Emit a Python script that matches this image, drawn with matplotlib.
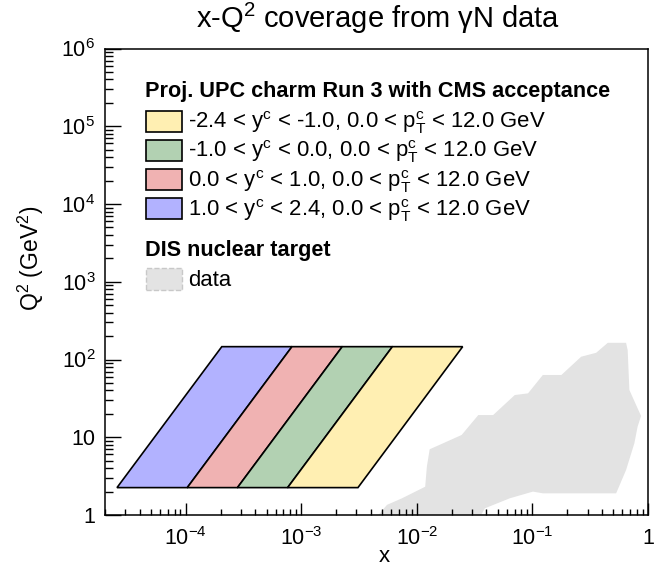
import numpy as np
import matplotlib
matplotlib.use("Agg")
import matplotlib.pyplot as plt
from matplotlib.patches import Rectangle
from matplotlib.ticker import FixedLocator, FuncFormatter, NullFormatter

plt.rcParams['font.family'] = ['Liberation Sans', 'DejaVu Sans']
plt.rcParams['mathtext.fontset'] = 'custom'
plt.rcParams['mathtext.rm'] = 'Liberation Sans'
plt.rcParams['mathtext.it'] = 'Liberation Sans:italic'
plt.rcParams['mathtext.bf'] = 'Liberation Sans:bold'

# charm bands: Q2 from m_c^2 up to m_c^2 + pT_max^2
q2_band = [2.25, 146.25]
# x at the low-Q2 and high-Q2 edges, going from y = 2.4 down to y = -2.4
x_edges_low = [2.54e-5, 1.03e-4, 2.80e-4, 7.61e-4, 3.09e-3]
x_edges_high = [2.05e-4, 8.30e-4, 2.26e-3, 6.14e-3, 2.49e-2]
band_labels = [
    r"1.0 < y$^{\mathregular{c}}$ < 2.4, 0.0 < $\mathregular{p_{T}^{c}}$ < 12.0 GeV",
    r"0.0 < y$^{\mathregular{c}}$ < 1.0, 0.0 < $\mathregular{p_{T}^{c}}$ < 12.0 GeV",
    r"-1.0 < y$^{\mathregular{c}}$ < 0.0, 0.0 < $\mathregular{p_{T}^{c}}$ < 12.0 GeV",
    r"-2.4 < y$^{\mathregular{c}}$ < -1.0, 0.0 < $\mathregular{p_{T}^{c}}$ < 12.0 GeV",
]
band_colors = ["#B2B2FF", "#F0B2B2", "#B2D1B2", "#FFEFB2"]

# envelope of the nuclear DIS measurements
dis_x = [4.52e-3, 5.51e-3, 7.43e-3, 1.18e-2, 1.22e-2, 1.29e-2, 2.44e-2, 3.40e-2,
         4.57e-2, 7.03e-2, 9.16e-2, 0.123, 0.178, 0.264, 0.356, 0.449, 0.646,
         0.667, 0.690, 0.789, 0.871, 0.813, 0.762, 0.646, 0.530, 0.123, 0.101,
         6.37e-2, 3.88e-2, 3.52e-2]
dis_q2 = [0.95, 1.35, 1.64, 2.31, 4.18, 7.0, 10.7, 19.3,
          19.3, 34.9, 36.7, 63.2, 63.2, 108.6, 122.0, 164.0, 164.0,
          132.0, 40.6, 26.0, 18.8, 13.7, 8.36, 3.79, 1.90, 1.90, 2.0,
          1.64, 1.22, 0.95]

W, H = 660, 567
fig = plt.figure(figsize=(6.6, 5.67), dpi=100)
ax = fig.add_axes([105 / W, 1 - 515 / H, 543 / W, 466.5 / H])
ax.set_xscale('log')
ax.set_yscale('log')
ax.set_xlim(2e-5, 1)
ax.set_ylim(1, 1e6)

ax.fill(dis_x, dis_q2, color="#E3E3E3", lw=0, zorder=1)

for i in range(4):
    xs = [x_edges_low[i], x_edges_low[i + 1], x_edges_high[i + 1], x_edges_high[i]]
    qs = [q2_band[0], q2_band[0], q2_band[1], q2_band[1]]
    ax.fill(xs, qs, facecolor=band_colors[i], edgecolor="black", lw=1.2, zorder=2)


def log_label(v, pos):
    n = int(round(np.log10(v)))
    if n == 0:
        return "1"
    if n == 1:
        return "10"
    return r"$\mathregular{10^{%d}}$" % n


ax.xaxis.set_major_locator(FixedLocator([1e-5, 1e-4, 1e-3, 1e-2, 1e-1, 1]))
ax.yaxis.set_major_locator(FixedLocator([10.0 ** k for k in range(7)]))
ax.xaxis.set_minor_locator(FixedLocator([m * 10.0 ** k for k in range(-5, 0) for m in range(2, 10)]))
ax.yaxis.set_minor_locator(FixedLocator([m * 10.0 ** k for k in range(0, 6) for m in range(2, 10)]))
ax.xaxis.set_major_formatter(FuncFormatter(log_label))
ax.yaxis.set_major_formatter(FuncFormatter(log_label))
ax.xaxis.set_minor_formatter(NullFormatter())
ax.yaxis.set_minor_formatter(NullFormatter())

ax.tick_params(which='both', direction='in', top=False, right=False, width=1, labelsize=15.5)
ax.tick_params(axis='y', which='major', length=11.5, pad=7)
ax.tick_params(axis='y', which='minor', length=6)
ax.tick_params(axis='x', which='major', length=9, pad=9)
ax.tick_params(axis='x', which='minor', length=4)
for s in ax.spines.values():
    s.set_linewidth(1.1)
    s.set_zorder(5)
ax.set_axisbelow(False)

fig.text(378 / W, 1 - 28 / H, r"x-Q$^{\mathregular{2}}$ coverage from γN data",
         ha='center', va='baseline', fontsize=21)
fig.text(31 / W, 1 - 258 / H, r"Q$^{\mathregular{2}}$ (GeV$^{\mathregular{2}}$)",
         ha='center', va='center', rotation=90, fontsize=16.5)
fig.text(384 / W, 1 - 557 / H, "x", ha='center', va='center', fontsize=16)

# legend, drawn in figure pixels
def px_box(x0, yc, color, **kw):
    fig.add_artist(Rectangle((x0 / W, 1 - (yc + 10.5) / H), 36 / W, 21 / H,
                             transform=fig.transFigure, facecolor=color, **kw))


def px_text(x0, ybase, s, **kw):
    fig.text(x0 / W, 1 - ybase / H, s, ha='left', va='baseline', **kw)


px_text(145, 96.5, "Proj. UPC charm Run 3 with CMS acceptance",
        fontsize=15.6, fontweight='bold')
row_y = [121, 150, 179.5, 208.8]
for k, i in enumerate([3, 2, 1, 0]):
    px_box(146, row_y[k], band_colors[i], edgecolor='black', lw=1.2)
    px_text(188, row_y[k] + 7, band_labels[i], fontsize=15.9)

px_text(145, 256, "DIS nuclear target", fontsize=15.6, fontweight='bold')
px_box(146, 279, "#E3E3E3", edgecolor='#C8C8C8', lw=1, linestyle='--')
px_text(188, 286, "data", fontsize=15.9)

fig.savefig("out.png", dpi=100)
